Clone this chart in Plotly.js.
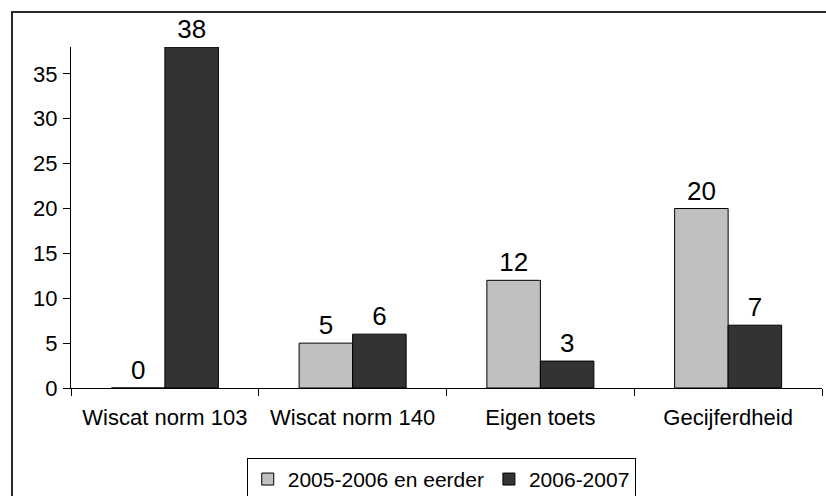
<!DOCTYPE html>
<html>
<head>
<meta charset="utf-8">
<script src="https://cdn.plot.ly/plotly-3.0.1.min.js"></script>
<style>
html, body { margin:0; padding:0; overflow:hidden; background:#fff; }
#wrap { position:relative; width:826px; height:496px; overflow:hidden; }
#chart { position:absolute; left:0; top:0; width:826px; height:496px; }
#frame { position:absolute; left:11px; top:11px; width:900px; height:600px; border:2px solid #2a2a2a; pointer-events:none; }
</style>
</head>
<body>
<div id="wrap"><div id="chart"></div><div id="frame"></div></div>
<script>
const categories = ["Wiscat norm 103", "Wiscat norm 140", "Eigen toets", "Gecijferdheid"];
const seriesNames = ["2005-2006 en eerder", "2006-2007"];
const valuesOld = [0, 5, 12, 20];
const valuesNew = [38, 6, 3, 7];
const yTicks = [0, 5, 10, 15, 20, 25, 30, 35];

const FONT = "Arial, 'Liberation Sans', sans-serif";

const mk = (name, vals, color) => ({
  type: 'bar', name: name, x: categories, y: vals,
  marker: { color: color, line: { color: '#000', width: 1 } },
  text: vals.map(String), textposition: 'outside',
  textfont: { family: FONT, size: 26, color: '#000' },
  constraintext: 'none', cliponaxis: false, hoverinfo: 'none'
});

const data = [
  mk(seriesNames[0], valuesOld, '#c0c0c0'),
  mk(seriesNames[1], valuesNew, '#333333')
];

const layout = {
  width: 826, height: 496,
  margin: { l: 71, r: 4, t: 47, b: 108, autoexpand: false },
  paper_bgcolor: 'rgba(0,0,0,0)', plot_bgcolor: 'rgba(0,0,0,0)',
  font: { family: FONT, size: 22, color: '#000' },
  barmode: 'group', bargap: 0.43, bargroupgap: 0,
  showlegend: true,
  legend: {
    orientation: 'h', x: 0.493, xanchor: 'center', y: -0.205, yanchor: 'top',
    bordercolor: '#000', borderwidth: 1, bgcolor: '#fff',
    font: { family: FONT, size: 21, color: '#000' },
    itemclick: false, itemdoubleclick: false, tracegroupgap: 0, itemwidth: 30
  },
  xaxis: {
    type: 'category', showline: true, linecolor: '#000', linewidth: 1,
    ticks: 'outside', tickson: 'boundaries', ticklen: 7, tickcolor: '#000',
    ticklabelstandoff: 10, showgrid: false, zeroline: false, fixedrange: true
  },
  yaxis: {
    range: [0, 38], tickvals: yTicks, ticktext: yTicks.map(String),
    showline: true, linecolor: '#000', linewidth: 1,
    ticks: 'outside', ticklen: 7, tickcolor: '#000', ticklabelstandoff: 1,
    showgrid: false, zeroline: false, fixedrange: true
  }
};

Plotly.newPlot('chart', data, layout, { displayModeBar: false, staticPlot: true });
</script>
</body>
</html>
